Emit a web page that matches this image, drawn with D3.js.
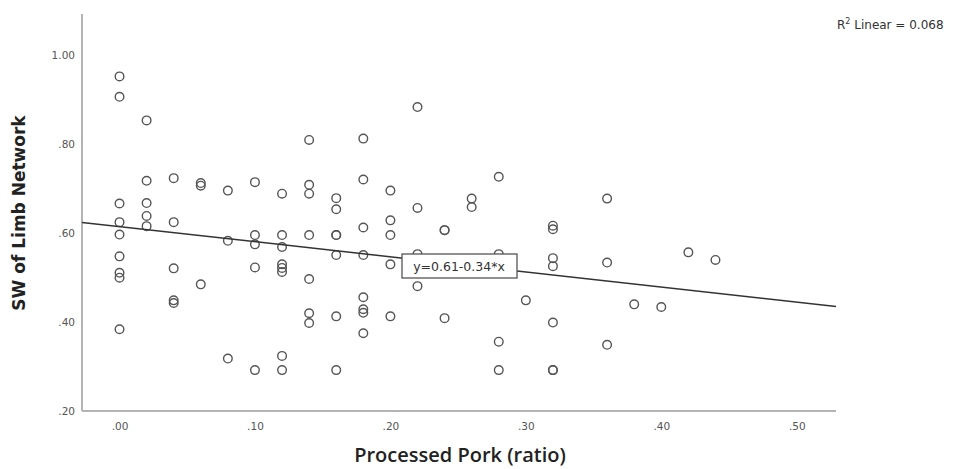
<!DOCTYPE html>
<html>
<head>
<meta charset="utf-8">
<script src="https://cdn.jsdelivr.net/npm/d3@7"></script>
<style>
  body { margin: 0; background: #fff; }
  svg { display: block; }
</style>
</head>
<body>
<svg id="scatter" width="961" height="469"></svg>
<script>
// processed pork ratio (x) and SW of limb network (y)
var pork = [
  0.00,0.00,0.00,0.00,0.00,0.00,0.00,0.00,0.00,
  0.02,0.02,0.02,0.02,0.02,
  0.04,0.04,0.04,0.04,0.04,
  0.06,0.06,0.06,
  0.08,0.08,0.08,
  0.10,0.10,0.10,0.10,0.10,
  0.12,0.12,0.12,0.12,0.12,0.12,0.12,0.12,
  0.14,0.14,0.14,0.14,0.14,0.14,0.14,
  0.16,0.16,0.16,0.16,0.16,0.16,0.16,
  0.18,0.18,0.18,0.18,0.18,0.18,0.18,0.18,
  0.20,0.20,0.20,0.20,0.20,
  0.22,0.22,0.22,0.22,
  0.24,0.24,0.24,
  0.26,0.26,
  0.28,0.28,0.28,0.28,
  0.30,
  0.32,0.32,0.32,0.32,0.32,0.32,0.32,
  0.36,0.36,0.36,
  0.38,0.40,0.42,0.44
];
var sw = [
  0.953,0.907,0.667,0.625,0.597,0.548,0.511,0.500,0.384,
  0.854,0.718,0.668,0.639,0.616,
  0.724,0.625,0.521,0.449,0.443,
  0.713,0.707,0.485,
  0.696,0.583,0.318,
  0.715,0.596,0.575,0.523,0.292,
  0.689,0.596,0.569,0.530,0.522,0.513,0.324,0.292,
  0.810,0.709,0.689,0.596,0.497,0.420,0.398,
  0.679,0.654,0.596,0.596,0.551,0.413,0.292,
  0.813,0.721,0.613,0.551,0.456,0.429,0.421,0.375,
  0.696,0.629,0.596,0.530,0.413,
  0.884,0.657,0.553,0.481,
  0.607,0.607,0.409,
  0.678,0.659,
  0.727,0.553,0.356,0.292,
  0.449,
  0.617,0.609,0.544,0.526,0.399,0.292,0.292,
  0.678,0.534,0.349,
  0.440,0.434,0.557,0.540
];
var xTicks = [0, 0.1, 0.2, 0.3, 0.4, 0.5];
var yTicks = [0.2, 0.4, 0.6, 0.8, 1.0];
// fit line as given by the label
var fitIntercept = 0.615, fitSlope = -0.34;
var fitLabel = "y=0.61-0.34*x";
var r2Label = "0.068";

var svg = d3.select("#scatter");
var plotL = 82, plotR = 836, plotT = 14, plotB = 411;

var x = d3.scaleLinear().domain([-0.0277, 0.529]).range([plotL, plotR]);
var y = d3.scaleLinear().domain([0.2, 1.0934]).range([plotB, plotT]);

var data = pork.map(function(d, i){ return {x: d, y: sw[i]}; });

// axes (SPSS style: grey frame lines, no tick marks)
var fmt = function(d){ return d3.format(".2f")(d).replace(/^0/, ""); };
var xAxis = svg.append("g")
    .attr("transform", "translate(0," + plotB + ")")
    .call(d3.axisBottom(x).tickValues(xTicks).tickSize(0).tickPadding(12).tickFormat(fmt));
var yAxis = svg.append("g")
    .attr("transform", "translate(" + plotL + ",0)")
    .call(d3.axisLeft(y).tickValues(yTicks).tickSize(0).tickPadding(7).tickFormat(fmt));

[xAxis, yAxis].forEach(function(a){
  a.select(".domain").attr("stroke", "#b4b4b4").attr("stroke-width", 2);
  a.selectAll("text").attr("fill", "#555")
    .attr("font-family", "DejaVu Sans, sans-serif").attr("font-size", "10.5px");
});
xAxis.select(".domain").attr("d", "M" + plotL + ",0H" + plotR);
yAxis.select(".domain").attr("d", "M0," + plotT + "V" + plotB);

// points
svg.append("g").selectAll("circle")
    .data(data)
    .enter().append("circle")
    .attr("cx", function(d){ return x(d.x); })
    .attr("cy", function(d){ return y(d.y); })
    .attr("r", 4.3)
    .attr("fill", "none")
    .attr("stroke", "#555")
    .attr("stroke-width", 1.4);

// fit line
var x0 = x.domain()[0], x1 = x.domain()[1];
svg.append("line")
    .attr("x1", x(x0)).attr("y1", y(fitIntercept + fitSlope * x0))
    .attr("x2", x(x1)).attr("y2", y(fitIntercept + fitSlope * x1))
    .attr("stroke", "#333")
    .attr("stroke-width", 1.5);

// equation label box
var lbl = svg.append("g").attr("transform", "translate(459,266)");
lbl.append("rect")
    .attr("x", -57).attr("y", -12).attr("width", 115).attr("height", 24)
    .attr("fill", "#fff").attr("stroke", "#555").attr("stroke-width", 1.3);
lbl.append("text")
    .attr("text-anchor", "middle").attr("dy", "0.36em")
    .attr("font-family", "DejaVu Sans, sans-serif").attr("font-size", "12.5px")
    .attr("fill", "#333")
    .text(fitLabel);

// R squared
var r2 = svg.append("text")
    .attr("x", 837).attr("y", 29)
    .attr("font-family", "DejaVu Sans, sans-serif").attr("font-size", "12px")
    .attr("fill", "#333");
r2.append("tspan").text("R");
r2.append("tspan").attr("dy", -5).attr("font-size", "8px").text("2");
r2.append("tspan").attr("dy", 5).text(" Linear = " + r2Label);

// axis titles
svg.append("text")
    .attr("x", 460).attr("y", 462)
    .attr("text-anchor", "middle")
    .attr("font-family", "Open Sans, sans-serif").attr("font-weight", 600)
    .attr("font-size", "20px").attr("fill", "#222")
    .text("Processed Pork (ratio)");
svg.append("text")
    .attr("transform", "translate(25,213) rotate(-90)")
    .attr("text-anchor", "middle")
    .attr("font-family", "DejaVu Sans, sans-serif").attr("font-weight", "bold")
    .attr("font-size", "17px").attr("fill", "#222")
    .text("SW of Limb Network");
</script>
</body>
</html>
